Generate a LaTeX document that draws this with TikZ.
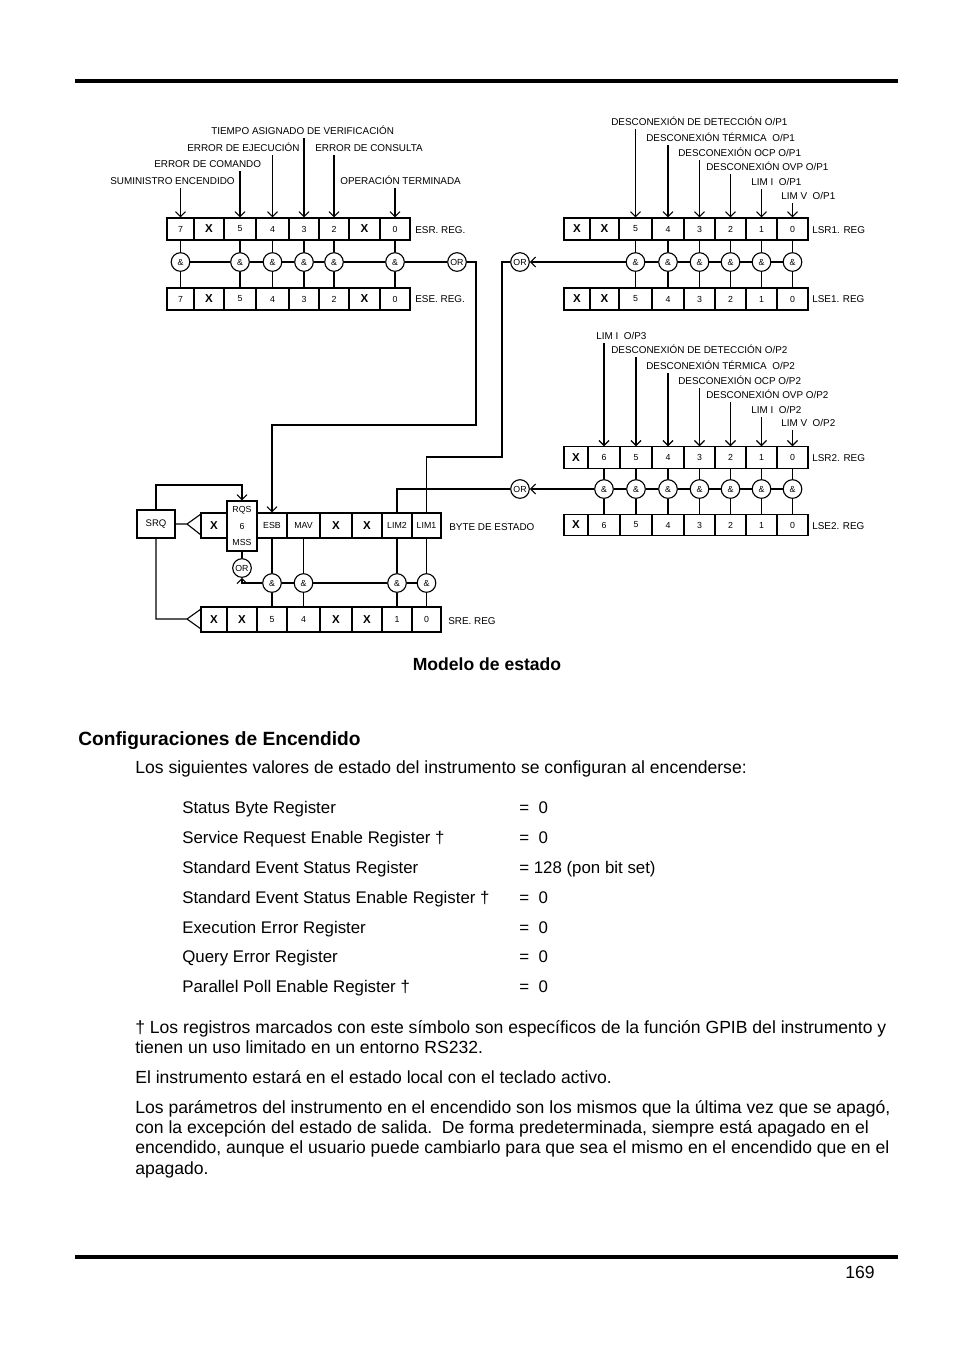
\documentclass[tikz,border=0pt]{standalone}
\usepackage{fontspec}
\setmainfont{Liberation Sans}
\usepackage{tikz}
\usetikzlibrary{arrows.meta, positioning, calc}

\newcommand{\xbit}{{\fontsize{7.2}{8}\selectfont\bfseries X}}

\begin{document}
\begin{tikzpicture}[x=0.022cm, y=-0.022cm,
  cell/.style={draw, line width=0.7pt, inner sep=0pt, font=\fontsize{5.5}{6}\selectfont},
  gate/.style={draw, circle, line width=0.7pt, minimum size=0.41cm, inner sep=0pt, font=\fontsize{5.5}{6}\selectfont},
  tag/.style={anchor=base west, inner xsep=0pt, inner ysep=2pt, font=\fontsize{6.2}{7}\selectfont},
  wire/.style={line width=0.7pt},
  feed/.style={wire, -{Straight Barb[length=1.1mm, width=2.2mm]}},
  body/.style={anchor=base west, inner sep=0pt, font=\fontsize{11}{13}\selectfont},
  entry/.style={body, font=\fontsize{10.55}{13}\selectfont}]

  % Page and rules
  \fill[white] (0,0) rectangle (954,1351);
  \draw[line width=2.6pt] (75,81) -- (898,81);
  \draw[line width=1.9pt] (75,1257) -- (898,1257);

  % Rows of the gates
  \coordinate (rowA) at (0,262);
  \coordinate (rowC) at (0,489);
  \coordinate (rowD) at (0,583);

  % ESR and ESE registers
  \foreach \bitno/\xa/\xb/\tx in {7/167/194/7, 6/194/224/\xbit, 5/224/256/5, 4/256/289/4,
      3/289/319/3, 2/319/349/2, 1/349/380/\xbit, 0/380/410/0} {
    \node[cell, minimum width={(\xb-\xa)*0.022cm}, minimum height=0.484cm] (esr\bitno) at ({(\xa+\xb)/2},229) {\tx};
    \node[cell, minimum width={(\xb-\xa)*0.022cm}, minimum height=0.484cm] (ese\bitno) at ({(\xa+\xb)/2},299) {\tx};
  }
  \node[tag] at (415,233.5) {ESR. REG.};
  \node[tag] at (415,302.5) {ESE. REG.};

  \foreach \bitno in {7,5,4,3,2,0} {
    \node[gate] (esra\bitno) at (esr\bitno |- rowA) {\&};
    \draw[wire] (esr\bitno.south) -- (esra\bitno.north);
    \draw[wire] (esra\bitno.south) -- (ese\bitno.north);
  }
  \node[gate] (orA) at (457,262) {OR};
  \draw[wire] (esra7) -- (esra5) -- (esra4) -- (esra3) -- (esra2) -- (esra0) -- (orA);

  % ESR event labels
  \node[tag] (lblpon) at (110,184.5) {SUMINISTRO ENCENDIDO};
  \node[tag] (lblcme) at (154,167.5) {ERROR DE COMANDO};
  \node[tag] (lblexe) at (187,151.5) {ERROR DE EJECUCIÓN};
  \node[tag] (lbldde) at (211,134.5) {TIEMPO ASIGNADO DE VERIFICACIÓN};
  \node[tag] (lblqye) at (315,151.5) {ERROR DE CONSULTA};
  \node[tag] (lblopc) at (340,184.5) {OPERACIÓN TERMINADA};
  \draw[feed] (esr7.north |- lblpon.south) -- (esr7.north);
  \draw[feed] (esr5.north |- lblcme.south) -- (esr5.north);
  \draw[feed] (esr4.north |- lblexe.south) -- (esr4.north);
  \draw[feed] (esr3.north |- lbldde.south) -- (esr3.north);
  \draw[feed] (esr2.north |- lblqye.south) -- (esr2.north);
  \draw[feed] (esr0.north |- lblopc.south) -- (esr0.north);

  % LSR1 and LSE1 registers
  \foreach \bitno/\xa/\xb/\tx in {7/564/590/\xbit, 6/590/619/\xbit, 5/619/652/5, 4/652/684/4,
      3/684/715/3, 2/715/746/2, 1/746/777/1, 0/777/808/0} {
    \node[cell, minimum width={(\xb-\xa)*0.022cm}, minimum height=0.484cm] (lsra\bitno) at ({(\xa+\xb)/2},229) {\tx};
    \node[cell, minimum width={(\xb-\xa)*0.022cm}, minimum height=0.484cm] (lsea\bitno) at ({(\xa+\xb)/2},299) {\tx};
  }
  \node[tag] at (812,233.5) {LSR1. REG};
  \node[tag] at (812,302.5) {LSE1. REG};

  \foreach \bitno in {5,4,3,2,1,0} {
    \node[gate] (lga\bitno) at (lsra\bitno |- rowA) {\&};
    \draw[wire] (lsra\bitno.south) -- (lga\bitno.north);
    \draw[wire] (lga\bitno.south) -- (lsea\bitno.north);
  }
  \node[gate] (orB) at (520,262) {OR};
  \draw[wire] (lga5) -- (lga4) -- (lga3) -- (lga2) -- (lga1) -- (lga0);
  \draw[feed] (lga5) -- (orB);

  % LSR1 labels
  \node[tag] (lbldet1) at (611,125.5) {DESCONEXIÓN DE DETECCIÓN O/P1};
  \node[tag] (lblotp1) at (646,141.5) {DESCONEXIÓN TÉRMICA\ \ O/P1};
  \node[tag] (lblocp1) at (678,156.5) {DESCONEXIÓN OCP O/P1};
  \node[tag] (lblovp1) at (706,170.5) {DESCONEXIÓN OVP O/P1};
  \node[tag] (lblci1) at (751,185.5) {LIM I\ \ O/P1};
  \node[tag] (lblcv1) at (781,199.5) {LIM V\ \ O/P1};
  \draw[feed] (lsra5.north |- lbldet1.south) -- (lsra5.north);
  \draw[feed] (lsra4.north |- lblotp1.south) -- (lsra4.north);
  \draw[feed] (lsra3.north |- lblocp1.south) -- (lsra3.north);
  \draw[feed] (lsra2.north |- lblovp1.south) -- (lsra2.north);
  \draw[feed] (lsra1.north |- lblci1.south) -- (lsra1.north);
  \draw[feed] (lsra0.north |- lblcv1.south) -- (lsra0.north);

  % LSR2 and LSE2 registers
  \foreach \bitno/\xa/\xb/\tx in {7/564/588/\xbit, 6/588/620/6, 5/620/652/5, 4/652/684/4,
      3/684/715/3, 2/715/746/2, 1/746/777/1, 0/777/808/0} {
    \node[cell, minimum width={(\xb-\xa)*0.022cm}, minimum height=0.47cm] (lsrb\bitno) at ({(\xa+\xb)/2},457.5) {\tx};
    \node[cell, minimum width={(\xb-\xa)*0.022cm}, minimum height=0.47cm] (lseb\bitno) at ({(\xa+\xb)/2},525) {\tx};
  }
  \node[tag] at (812,461) {LSR2. REG};
  \node[tag] at (812,529.5) {LSE2. REG};

  \foreach \bitno in {6,5,4,3,2,1,0} {
    \node[gate] (lgb\bitno) at (lsrb\bitno |- rowC) {\&};
    \draw[wire] (lsrb\bitno.south) -- (lgb\bitno.north);
    \draw[wire] (lgb\bitno.south) -- (lseb\bitno.north);
  }
  \node[gate] (orC) at (520,489) {OR};
  \draw[wire] (lgb6) -- (lgb5) -- (lgb4) -- (lgb3) -- (lgb2) -- (lgb1) -- (lgb0);
  \draw[feed] (lgb6) -- (orC);

  % LSR2 labels
  \node[tag] (lblci3) at (596,339.5) {LIM I\ \ O/P3};
  \node[tag] (lbldet2) at (611,353.5) {DESCONEXIÓN DE DETECCIÓN O/P2};
  \node[tag] (lblotp2) at (646,369.5) {DESCONEXIÓN TÉRMICA\ \ O/P2};
  \node[tag] (lblocp2) at (678,384.5) {DESCONEXIÓN OCP O/P2};
  \node[tag] (lblovp2) at (706,398.5) {DESCONEXIÓN OVP O/P2};
  \node[tag] (lblci2) at (751,413.5) {LIM I\ \ O/P2};
  \node[tag] (lblcv2) at (781,426.5) {LIM V\ \ O/P2};
  \draw[feed] (lsrb6.north |- lblci3.south) -- (lsrb6.north);
  \draw[feed] (lsrb5.north |- lbldet2.south) -- (lsrb5.north);
  \draw[feed] (lsrb4.north |- lblotp2.south) -- (lsrb4.north);
  \draw[feed] (lsrb3.north |- lblocp2.south) -- (lsrb3.north);
  \draw[feed] (lsrb2.north |- lblovp2.south) -- (lsrb2.north);
  \draw[feed] (lsrb1.north |- lblci2.south) -- (lsrb1.north);
  \draw[feed] (lsrb0.north |- lblcv2.south) -- (lsrb0.north);

  % Status byte and SRE registers
  \foreach \bitno/\xa/\xb/\tx in {7/201/227/\xbit, 5/257/287/ESB, 4/287/320/MAV,
      3/320/352/\xbit, 2/352/382/\xbit, 1/382/412/LIM2, 0/412/441/LIM1} {
    \node[cell, minimum width={(\xb-\xa)*0.022cm}, minimum height=0.55cm] (sb\bitno) at ({(\xa+\xb)/2},525.5) {\tx};
  }
  \node[cell, minimum width=0.66cm, minimum height=1.1cm, align=center,
        font=\fontsize{5.5}{10.5}\selectfont] (rqs) at (242,526) {RQS\\6\\MSS};
  \foreach \bitno/\xa/\xb/\tx in {7/201/227/\xbit, 6/227/257/\xbit, 5/257/287/5, 4/287/320/4,
      3/320/352/\xbit, 2/352/382/\xbit, 1/382/412/1, 0/412/441/0} {
    \node[cell, minimum width={(\xb-\xa)*0.022cm}, minimum height=0.55cm] (sre\bitno) at ({(\xa+\xb)/2},619.5) {\tx};
  }
  \node[tag] at (449,530.5) {BYTE DE ESTADO};
  \node[tag] at (448,624.5) {SRE. REG};

  \foreach \bitno in {5,4,1,0} {
    \node[gate] (sga\bitno) at (sb\bitno |- rowD) {\&};
    \draw[wire] (sb\bitno.south) -- (sga\bitno.north);
    \draw[wire] (sga\bitno.south) -- (sre\bitno.north);
  }
  \node[gate] (orD) at (242,568) {OR};
  \draw[wire] (sga0) -- (sga1) -- (sga4) -- (sga5);
  \draw[feed] (sga5.west) -| (orD.south);
  \draw[wire] (orD) -- (rqs);

  % SRQ loop
  \node[cell, minimum width=0.836cm, minimum height=0.616cm, font=\fontsize{6}{7}\selectfont] (srq) at (156,524) {SRQ};
  \coordinate (srqloop) at (156,485);
  \draw[feed] (srq.north) -- (srqloop) -| (rqs.north);
  \coordinate (srqtip) at (187,524);
  \coordinate (srqarmA) at (201,514);
  \coordinate (srqarmB) at (201,535);
  \draw[wire] (srq.east) -- (srqtip) -- (srqarmA) (srqtip) -- (srqarmB);
  \coordinate (sretip) at (187,619);
  \coordinate (srearmA) at (201,609);
  \coordinate (srearmB) at (201,629);
  \draw[wire] (srq.south) |- (sretip) -- (srearmA) (sretip) -- (srearmB);

  % Summary lines into the status byte
  \coordinate (esrdropA) at (476,262);
  \coordinate (esrdropB) at (476,425);
  \draw[feed] (orA) -- (esrdropA) -- (esrdropB) -| (sb5.north);
  \coordinate (lsrdropA) at (502,262);
  \coordinate (lsrdropB) at (502,457);
  \draw[wire] (orB) -- (lsrdropA) -- (lsrdropB) -| (sb0.north);
  \draw[wire] (orC) -| (sb1.north);

  % Caption and text
  \node[body, anchor=base, font=\fontsize{11}{13}\selectfont\bfseries] (caption) at (487,670) {Modelo de estado};
  \node[body, font=\fontsize{12}{14}\selectfont\bfseries] (heading) at (78,745) {Configuraciones de Encendido};
  \node[body] (intro) at (135,773) {Los siguientes valores de estado del instrumento se configuran al encenderse:};

  \node[entry] (rowa) at (182,813) {Status Byte Register};
  \node[entry] (rowb) at (182,843) {Service Request Enable Register †};
  \node[entry] (rowc) at (182,873) {Standard Event Status Register};
  \node[entry] (rowd) at (182,903) {Standard Event Status Enable Register †};
  \node[entry] (rowe) at (182,933) {Execution Error Register};
  \node[entry] (rowf) at (182,962) {Query Error Register};
  \node[entry] (rowg) at (182,992) {Parallel Poll Enable Register †};
  \node[entry] (vala) at (519,813) {=\ \ 0};
  \node[entry] (valb) at (519,843) {=\ \ 0};
  \node[entry] (valc) at (519,873) {= 128 (pon bit set)};
  \node[entry] (vald) at (519,903) {=\ \ 0};
  \node[entry] (vale) at (519,933) {=\ \ 0};
  \node[entry] (valf) at (519,962) {=\ \ 0};
  \node[entry] (valg) at (519,992) {=\ \ 0};

  \node[body] (parA) at (135,1033) {† Los registros marcados con este símbolo son específicos de la función GPIB del instrumento y};
  \node[body] (parB) at (135,1053) {tienen un uso limitado en un entorno RS232.};
  \node[body] (parC) at (135,1083) {El instrumento estará en el estado local con el teclado activo.};
  \node[body] (parD) at (135,1113) {Los parámetros del instrumento en el encendido son los mismos que la última vez que se apagó,};
  \node[body] (parE) at (135,1133) {con la excepción del estado de salida.\ \ De forma predeterminada, siempre está apagado en el};
  \node[body] (parF) at (135,1153) {encendido, aunque el usuario puede cambiarlo para que sea el mismo en el encendido que en el};
  \node[body] (parG) at (135,1174) {apagado.};

  \node[body, anchor=base east] (pageno) at (875,1278) {169};
\end{tikzpicture}
\end{document}
